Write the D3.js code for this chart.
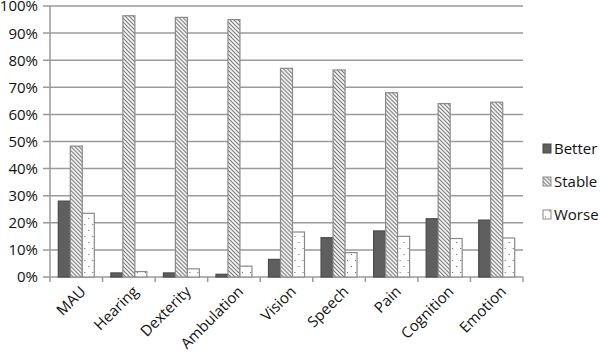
<!DOCTYPE html>
<html>
<head>
<meta charset="utf-8">
<script src="https://cdn.jsdelivr.net/npm/d3@7"></script>
<style>
  html, body { margin: 0; padding: 0; background: #fff; overflow: hidden; }
  svg { display: block; }
  text { font-family: "Open Sans", sans-serif; fill: #111; }
</style>
</head>
<body>
<div id="chart"></div>
<script>
const categories = ["MAU", "Hearing", "Dexterity", "Ambulation", "Vision", "Speech", "Pain", "Cognition", "Emotion"];
const seriesNames = ["Better", "Stable", "Worse"];
const better = [28, 1.5, 1.5, 1, 6.5, 14.5, 17, 21.5, 21];
const stable = [48.3, 96.4, 95.8, 95, 77, 76.4, 68, 64, 64.5];
const worse = [23.5, 2, 3, 4, 16.6, 9, 15, 14.2, 14.4];
const yTicks = [0, 10, 20, 30, 40, 50, 60, 70, 80, 90, 100];

const width = 600, height = 356;
const margin = { top: 6, right: 77, bottom: 79, left: 50 };
const innerWidth = width - margin.left - margin.right;
const innerHeight = height - margin.top - margin.bottom;

const svg = d3.select("#chart")
    .append("svg")
    .attr("width", width)
    .attr("height", height);

// patterns
const defs = svg.append("defs");
const hatch = defs.append("pattern")
    .attr("id", "hatch")
    .attr("patternUnits", "userSpaceOnUse")
    .attr("width", 4)
    .attr("height", 4);
hatch.append("rect").attr("width", 4).attr("height", 4).attr("fill", "#fff");
hatch.append("path")
    .attr("d", "M-1,-1 L5,5 M-1,3 L1,5 M3,-1 L5,1")
    .attr("stroke", "#6e6e6e")
    .attr("stroke-width", 1.1);

const dots = defs.append("pattern")
    .attr("id", "dots")
    .attr("patternUnits", "userSpaceOnUse")
    .attr("width", 8)
    .attr("height", 12);
dots.append("rect").attr("width", 8).attr("height", 12).attr("fill", "#fff");
dots.append("rect").attr("x", 2).attr("y", 2).attr("width", 1).attr("height", 1).attr("fill", "#666");
dots.append("rect").attr("x", 6).attr("y", 8).attr("width", 1).attr("height", 1).attr("fill", "#666");

const fills = { Better: "#5f5f5f", Stable: "url(#hatch)", Worse: "url(#dots)" };
const strokes = { Better: "#4a4a4a", Stable: "#8a8a8a", Worse: "#8a8a8a" };

const chart = svg.append("g")
    .attr("transform", `translate(${margin.left}, ${margin.top})`);

const x = d3.scaleBand()
    .domain(categories)
    .range([0, innerWidth])
    .paddingInner(0.315)
    .paddingOuter(0.158);

const xSub = d3.scaleBand()
    .domain(seriesNames)
    .range([0, x.bandwidth()]);

const y = d3.scaleLinear()
    .domain([0, 100])
    .range([innerHeight, 0]);

// gridlines
chart.append("g")
    .selectAll("line")
    .data(yTicks)
    .join("line")
    .attr("x1", -7)
    .attr("x2", innerWidth)
    .attr("y1", d => y(d))
    .attr("y2", d => y(d))
    .attr("stroke", "#9a9a9a")
    .attr("stroke-width", 1.5);

// y labels
chart.append("g")
    .selectAll("text")
    .data(yTicks)
    .join("text")
    .attr("x", -12)
    .attr("y", d => y(d))
    .attr("dy", "0.36em")
    .attr("text-anchor", "end")
    .style("font-size", "15px")
    .text(d => d + "%");

// bars
const table = categories.map((c, i) => ({
    cat: c,
    values: [
        { key: "Better", value: better[i] },
        { key: "Stable", value: stable[i] },
        { key: "Worse", value: worse[i] }
    ]
}));

chart.append("g")
    .selectAll("g")
    .data(table)
    .join("g")
    .attr("transform", d => `translate(${x(d.cat)}, 0)`)
    .selectAll("rect")
    .data(d => d.values)
    .join("rect")
    .attr("x", d => xSub(d.key))
    .attr("y", d => y(d.value))
    .attr("width", xSub.bandwidth())
    .attr("height", d => innerHeight - y(d.value))
    .attr("fill", d => fills[d.key])
    .attr("stroke", d => strokes[d.key])
    .attr("stroke-width", 1.2);

// axes lines
chart.append("line")
    .attr("x1", 0).attr("x2", 0)
    .attr("y1", 0).attr("y2", innerHeight)
    .attr("stroke", "#9a9a9a")
    .attr("stroke-width", 1.5);

const step = innerWidth / categories.length;
chart.append("g")
    .selectAll("line")
    .data(d3.range(categories.length + 1))
    .join("line")
    .attr("x1", d => d * step)
    .attr("x2", d => d * step)
    .attr("y1", innerHeight)
    .attr("y2", innerHeight + 5)
    .attr("stroke", "#9a9a9a")
    .attr("stroke-width", 1.5);

// x labels
chart.append("g")
    .selectAll("text")
    .data(categories)
    .join("text")
    .attr("transform", d => `translate(${x(d) + x.bandwidth() / 2 + 3}, ${innerHeight + 8}) rotate(-45)`)
    .attr("text-anchor", "end")
    .attr("dy", "0.7em")
    .style("font-size", "15px")
    .text(d => d);

// legend
const legend = svg.append("g")
    .attr("transform", `translate(543, 148.5)`);

seriesNames.forEach((name, i) => {
    const row = legend.append("g")
        .attr("transform", `translate(0, ${i * 33})`);
    row.append("rect")
        .attr("x", 0)
        .attr("y", -4.5)
        .attr("width", 8)
        .attr("height", 9)
        .attr("fill", fills[name])
        .attr("stroke", strokes[name]);
    row.append("text")
        .attr("x", 11)
        .attr("y", 0)
        .attr("dy", "0.35em")
        .style("font-size", "15px")
        .text(name);
});
</script>
</body>
</html>
